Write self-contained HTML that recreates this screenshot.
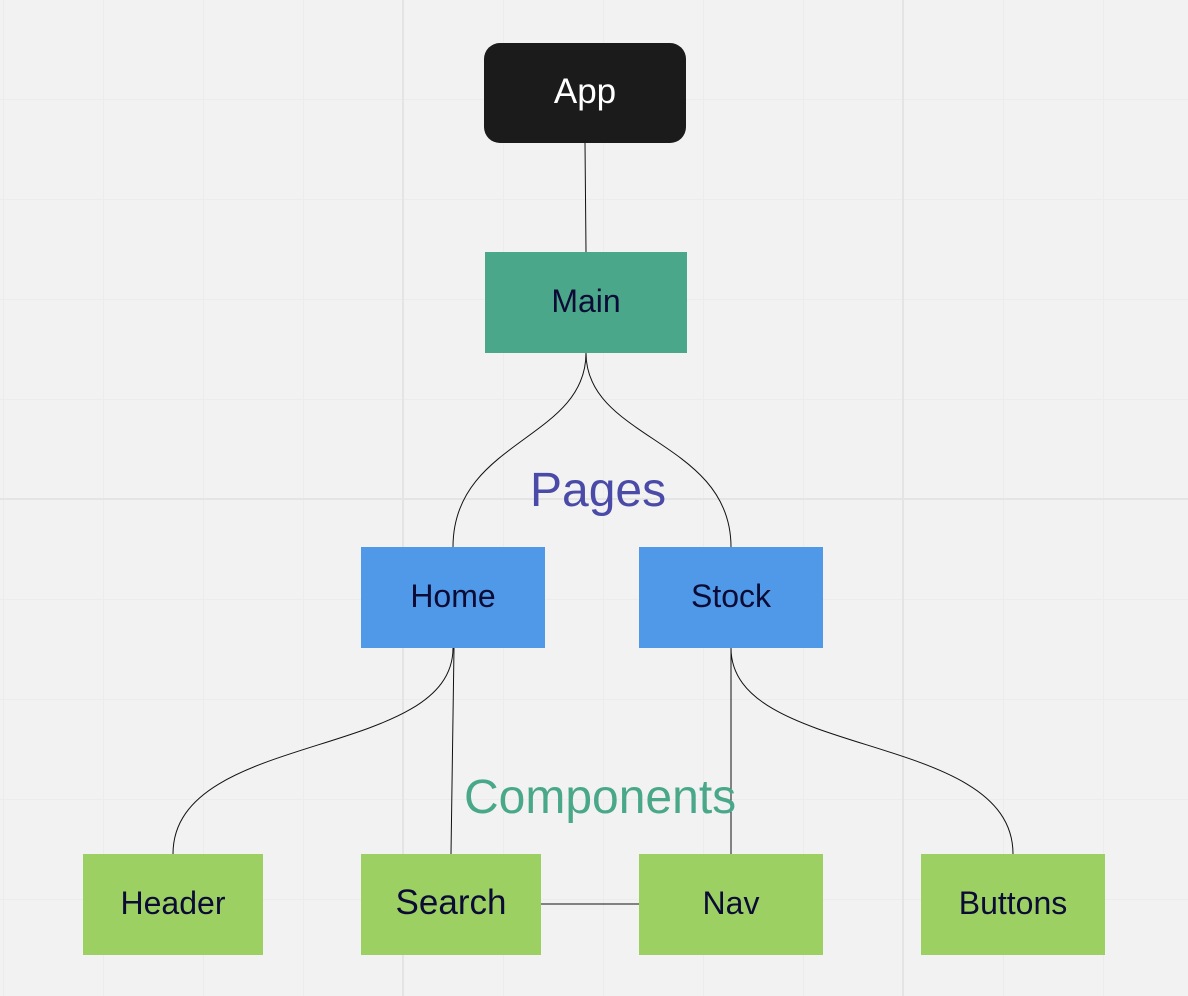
<!DOCTYPE html>
<html><head><style>
html,body{margin:0;padding:0}
body{width:1188px;height:996px;position:relative;overflow:hidden;background:#f2f2f2;font-family:"Liberation Sans",Arial,sans-serif;
background-image:linear-gradient(to right,#e4e4e4 2px,transparent 2px),linear-gradient(to bottom,#e4e4e4 2px,transparent 2px),linear-gradient(to right,#ececec 1px,transparent 1px),linear-gradient(to bottom,#ececec 1px,transparent 1px);
background-size:500px 500px,500px 500px,100px 100px,100px 100px;
background-position:402px 0,0 498px,3px 0,0 99px;}
.b{position:absolute;display:flex;align-items:center;justify-content:center;font-size:32px;color:#0b0b35;padding-bottom:3px;box-sizing:border-box}
.t{position:absolute;font-size:48px;white-space:nowrap}
</style></head><body>
<svg width="1188" height="996" style="position:absolute;left:0;top:0" fill="none" stroke="#111" stroke-width="1">
<path d="M585 143 L586 252"/>
<path d="M586 353 C586 440 453 440 453 547"/>
<path d="M586 353 C586 440 731 440 731 547"/>
<path d="M453 648 C453 760 173 730 173 854"/>
<path d="M454 648 L451 854"/>
<path d="M731 648 L731 854"/>
<path d="M731 648 C731 760 1013 730 1013 854"/>
<path d="M541 904 L639 904"/>
</svg>
<div class="b" style="left:484px;top:43px;width:202px;height:100px;background:#1b1b1b;border-radius:16px;color:#fff;font-size:35px">App</div>
<div class="b" style="left:485px;top:252px;width:202px;height:101px;background:#4ba78a">Main</div>
<div class="b" style="left:361px;top:547px;width:184px;height:101px;background:#5099e8">Home</div>
<div class="b" style="left:639px;top:547px;width:184px;height:101px;background:#5099e8">Stock</div>
<div class="b" style="left:83px;top:854px;width:180px;height:101px;background:#9dd062">Header</div>
<div class="b" style="left:361px;top:854px;width:180px;height:101px;background:#9dd062;font-size:35px">Search</div>
<div class="b" style="left:639px;top:854px;width:184px;height:101px;background:#9dd062">Nav</div>
<div class="b" style="left:921px;top:854px;width:184px;height:101px;background:#9dd062">Buttons</div>
<div class="t" style="left:530px;top:463px;color:#4a4aa8">Pages</div>
<div class="t" style="left:464px;top:770px;color:#4aa88a">Components</div>
</body></html>
